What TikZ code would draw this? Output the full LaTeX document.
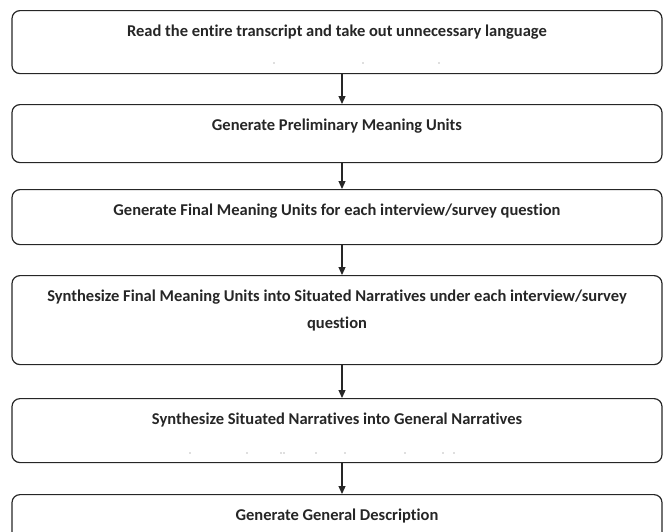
\documentclass[tikz,border=0pt]{standalone}
\usepackage{fontspec}
\setmainfont{Carlito}[Ligatures=NoCommon]
\usetikzlibrary{arrows.meta}

\begin{document}
\begin{tikzpicture}[x=1pt,y=1pt,>={Triangle[length=8pt,width=7pt]}]
\tikzset{
    stepbox/.style={%
        draw=black!85, line width=1.2pt,
        rectangle,
        rounded corners=8pt,
        minimum width=650pt,
        text width=630pt,
        inner xsep=10pt, inner ysep=0pt,
        align=flush center,
        font=\fontsize{16.5}{27}\selectfont\bfseries,
        text=black!85,
        text height=26pt,
        anchor=north
        },
    flow/.style={->, line width=1.2pt, draw=black!85},
}
\useasboundingbox (0,0) rectangle (663,-531);
\clip (0,0) rectangle (663,-531);
%%%STEPS
\node[stepbox, text depth=37pt] (read) at (337,-10) {Read the entire transcript and take out unnecessary language};
\node[stepbox, text depth=32pt] (prelim) at (337,-104) {Generate Preliminary Meaning Units};
\node[stepbox, text depth=29pt] (final) at (337,-189) {Generate Final Meaning Units for each interview/survey question};
\node[stepbox, text depth=63pt] (situated) at (337,-275) {Synthesize Final Meaning Units into Situated Narratives under each interview/survey question};
\node[stepbox, text depth=38pt] (general) at (337,-398) {Synthesize Situated Narratives into General Narratives};
\node[stepbox, text depth=34pt] (descr) at (337,-494) {Generate General Description};
%%%STRAY DOTS
\fill[black!55] \foreach \x in {274,363,439} {(\x,-63) circle (0.7pt)};
\fill[black!55] \foreach \x in {190,247,281,284,316,345,405,443,454} {(\x,-453) circle (0.7pt)};
%%%FLOW
\draw[flow] ([xshift=5pt]read.south) -- ([xshift=5pt]prelim.north);
\draw[flow] ([xshift=5pt]prelim.south) -- ([xshift=5pt]final.north);
\draw[flow] ([xshift=5pt]final.south) -- ([xshift=5pt]situated.north);
\draw[flow] ([xshift=5pt]situated.south) -- ([xshift=5pt]general.north);
\draw[flow] ([xshift=5pt]general.south) -- ([xshift=5pt]descr.north);
\end{tikzpicture}
\end{document}
